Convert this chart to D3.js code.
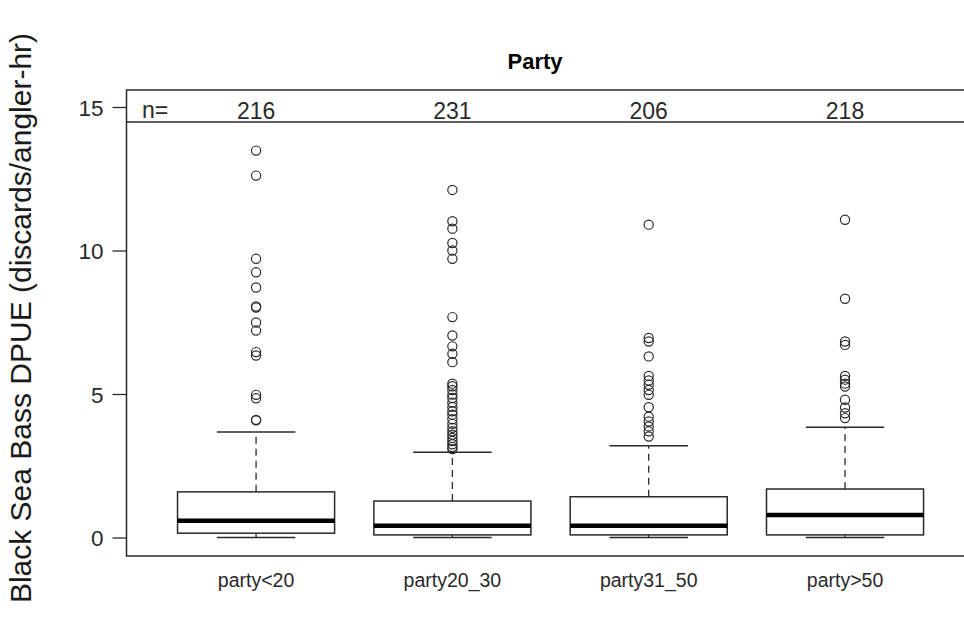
<!DOCTYPE html>
<html>
<head>
<meta charset="utf-8">
<script src="https://cdn.jsdelivr.net/npm/d3@7"></script>
<style>
  html, body { margin: 0; padding: 0; background: #fff; }
  svg { display: block; }
  text { font-family: "Liberation Sans", Arial, sans-serif; }
</style>
</head>
<body>
<svg id="chart" width="964" height="638"></svg>
<script>
// ---- data ----
const categories = ["party<20", "party20_30", "party31_50", "party>50"];
const counts = [216, 231, 206, 218];
const whiskerLow = [0, 0, 0, 0];
const q1 = [0.15, 0.09, 0.09, 0.09];
const medians = [0.58, 0.41, 0.41, 0.78];
const q3 = [1.59, 1.27, 1.42, 1.69];
const whiskerHigh = [3.68, 2.97, 3.20, 3.84];
const outliersG1 = [13.48, 12.61, 9.71, 9.24, 8.71, 8.05, 8.01, 7.49, 7.21, 6.46, 6.34, 4.97, 4.85, 4.10, 4.08];
const outliersG2 = [12.11, 11.02, 10.76, 10.26, 10.0, 9.71, 7.68, 7.04, 6.66, 6.40, 6.11, 5.36, 5.27, 5.14, 4.98, 4.86, 4.70, 4.55, 4.40, 4.28, 4.12, 3.96, 3.82, 3.70, 3.58, 3.47, 3.36, 3.25, 3.15, 3.08];
const outliersG3 = [10.9, 6.95, 6.83, 6.31, 5.63, 5.47, 5.32, 5.14, 4.97, 4.54, 4.21, 4.04, 3.87, 3.70, 3.52];
const outliersG4 = [11.07, 8.32, 6.83, 6.71, 5.63, 5.50, 5.36, 5.26, 4.80, 4.53, 4.33, 4.16];
const outliers = [outliersG1, outliersG2, outliersG3, outliersG4];
const yTicks = [0, 5, 10, 15];
const title = "Party";
const yLabel = "Black Sea Bass DPUE (discards/angler-hr)";

// ---- layout ----
const svg = d3.select("#chart");
const plotLeft = 126.5, plotTop = 90, plotBottom = 556, headerY = 122;
const x = d3.scaleLinear().domain([0.34, 4.66]).range([126.5, 974.6]);
const y = d3.scaleLinear().domain([0, 15]).range([537.5, 107]);
const ink = "#2a2a2a";
const boxW = (x(1.4) - x(0.6));

const groups = categories.map((c, i) => ({
  cat: c, n: counts[i], idx: i + 1,
  lo: whiskerLow[i], q1: q1[i], med: medians[i], q3: q3[i], hi: whiskerHigh[i],
  out: outliers[i]
}));

// frame
svg.append("path")
  .attr("d", `M${x(4.66) + 10},${plotTop} H${plotLeft} V${plotBottom} H${x(4.66) + 10}`)
  .attr("fill", "none").attr("stroke", ink).attr("stroke-width", 1.5);
svg.append("line")
  .attr("x1", plotLeft).attr("x2", x(4.66) + 10)
  .attr("y1", headerY).attr("y2", headerY)
  .attr("stroke", ink).attr("stroke-width", 1.5);

// y axis
const yAxis = d3.axisLeft(y).tickValues(yTicks).tickSize(14).tickPadding(9).tickFormat(d3.format("d"));
const gy = svg.append("g").attr("transform", `translate(${plotLeft},0)`).call(yAxis);
gy.select(".domain").remove();
gy.selectAll(".tick line").attr("stroke", ink).attr("stroke-width", 1.3);
gy.selectAll(".tick text").attr("fill", ink).style("font-size", "22.5px")
  .attr("dy", "0.37em")
  .style("font-family", "'Liberation Sans', Arial, sans-serif");

// x labels
svg.selectAll("text.xlab").data(groups).join("text")
  .attr("class", "xlab")
  .attr("x", d => x(d.idx)).attr("y", 587)
  .attr("text-anchor", "middle").attr("fill", ink)
  .style("font-size", "19.5px")
  .text(d => d.cat);

// n labels
svg.append("text").attr("x", 142).attr("y", 118).attr("fill", ink)
  .style("font-size", "23px").text("n=");
svg.selectAll("text.nlab").data(groups).join("text")
  .attr("class", "nlab")
  .attr("x", d => x(d.idx)).attr("y", 118.5)
  .attr("text-anchor", "middle").attr("fill", ink)
  .style("font-size", "23px")
  .text(d => d.n);

// boxes
const g = svg.selectAll("g.box").data(groups).join("g").attr("class", "box");
// whiskers dashed
g.append("line")
  .attr("x1", d => x(d.idx)).attr("x2", d => x(d.idx))
  .attr("y1", d => y(d.q3)).attr("y2", d => y(d.hi))
  .attr("stroke", ink).attr("stroke-width", 1.3).attr("stroke-dasharray", "7,5");
g.append("line")
  .attr("x1", d => x(d.idx)).attr("x2", d => x(d.idx))
  .attr("y1", d => y(d.q1)).attr("y2", d => y(d.lo))
  .attr("stroke", ink).attr("stroke-width", 1.3).attr("stroke-dasharray", "7,5");
// caps
["hi", "lo"].forEach(k => {
  g.append("line")
    .attr("x1", d => x(d.idx) - boxW / 4).attr("x2", d => x(d.idx) + boxW / 4)
    .attr("y1", d => y(d[k])).attr("y2", d => y(d[k]))
    .attr("stroke", ink).attr("stroke-width", 1.5);
});
// box
g.append("rect")
  .attr("x", d => x(d.idx) - boxW / 2).attr("width", boxW)
  .attr("y", d => y(d.q3)).attr("height", d => y(d.q1) - y(d.q3))
  .attr("fill", "#fff").attr("stroke", ink).attr("stroke-width", 1.5);
// median
g.append("line")
  .attr("x1", d => x(d.idx) - boxW / 2).attr("x2", d => x(d.idx) + boxW / 2)
  .attr("y1", d => y(d.med)).attr("y2", d => y(d.med))
  .attr("stroke", "#000").attr("stroke-width", 4.5);
// outliers
g.selectAll("circle").data(d => d.out.map(v => ({v, idx: d.idx}))).join("circle")
  .attr("cx", d => x(d.idx)).attr("cy", d => y(d.v)).attr("r", 4.6)
  .attr("fill", "none").attr("stroke", ink).attr("stroke-width", 1.2);

// title
svg.append("text").attr("x", 535).attr("y", 69).attr("text-anchor", "middle")
  .attr("fill", "#000").style("font-size", "22px").style("font-weight", "bold")
  .text(title);

// y label
svg.append("text")
  .attr("transform", `translate(31,${318}) rotate(-90)`)
  .attr("text-anchor", "middle").attr("fill", "#1a1a1a")
  .style("font-size", "30px")
  .text(yLabel);
</script>
</body>
</html>
